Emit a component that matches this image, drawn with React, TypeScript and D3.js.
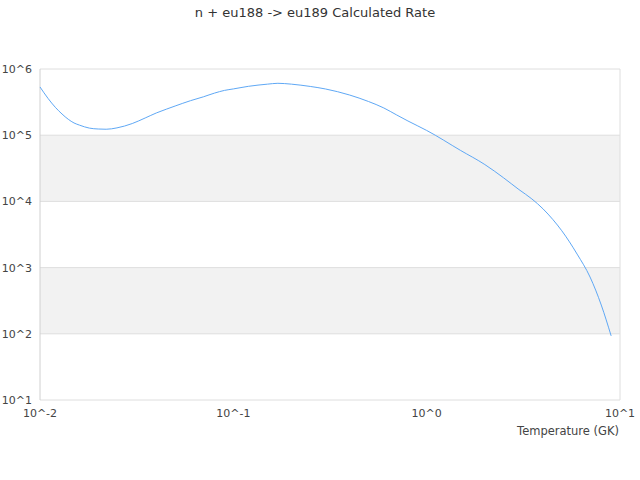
import React from 'react';
import * as d3 from 'd3';

const title = 'n + eu188 -> eu189 Calculated Rate';
const xAxisLabel = 'Temperature (GK)';

// temperature grid (GK) and calculated rate
const temperatures = [
  0.01, 0.011, 0.012, 0.013, 0.014, 0.015, 0.016, 0.018, 0.02, 0.022, 0.025,
  0.03, 0.035, 0.04, 0.045, 0.05, 0.06, 0.07, 0.08, 0.09, 0.1, 0.12, 0.15,
  0.17, 0.2, 0.25, 0.3, 0.4, 0.5, 0.6, 0.7, 0.8, 0.9, 1, 1.5, 2, 2.5, 3, 3.5,
  4, 4.5, 5, 6, 7, 8, 9,
];
const rates = [
  5.35e5, 3.6e5, 2.64e5, 2.09e5, 1.74e5, 1.53e5, 1.42e5, 1.28e5, 1.24e5,
  1.23e5, 1.29e5, 1.5e5, 1.82e5, 2.17e5, 2.47e5, 2.76e5, 3.32e5, 3.8e5,
  4.33e5, 4.75e5, 5.0e5, 5.48e5, 5.9e5, 6.08e5, 5.9e5, 5.45e5, 4.99e5,
  4.04e5, 3.23e5, 2.58e5, 2.02e5, 1.64e5, 1.38e5, 1.18e5, 5.87e4, 3.6e4,
  2.27e4, 1.51e4, 1.09e4, 7.7e3, 5.3e3, 3.6e3, 1.6e3, 720, 272, 93,
];

const xTicks = [0.01, 0.1, 1, 10];
const xTickLabels = ['10^-2', '10^-1', '10^0', '10^1'];
const yTicks = [1e1, 1e2, 1e3, 1e4, 1e5, 1e6];
const yTickLabels = ['10^1', '10^2', '10^3', '10^4', '10^5', '10^6'];

const W = 640;
const H = 480;
const margin = { top: 69, right: 20, bottom: 80, left: 40 };
const font = '"DejaVu Sans", Verdana, sans-serif';

export default function App() {
  const x = d3
    .scaleLog()
    .domain([0.01, 10])
    .range([margin.left, W - margin.right]);
  const y = d3
    .scaleLog()
    .domain([1e1, 1e6])
    .range([H - margin.bottom, margin.top]);

  const points = temperatures.map((t, i) => [t, rates[i]] as [number, number]);
  const line = d3
    .line<[number, number]>()
    .x(d => x(d[0]))
    .y(d => y(d[1]))
    .curve(d3.curveMonotoneX);

  // shaded bands between alternate decades
  const bands = yTicks.slice(0, -1).filter((_, i) => i % 2 === 1);

  return (
    <svg
      width={W}
      height={H}
      style={{ position: 'absolute', left: 0, top: 0, background: '#fff' }}
    >
      <text
        x={315}
        y={17}
        textAnchor="middle"
        fontFamily={font}
        fontSize={13}
        fill="#333"
      >
        {title}
      </text>

      {bands.map(b => (
        <rect
          key={b}
          x={x(0.01)}
          y={y(b * 10)}
          width={x(10) - x(0.01)}
          height={y(b) - y(b * 10)}
          fill="#f2f2f2"
        />
      ))}

      {yTicks.map(t => (
        <line
          key={t}
          x1={x(0.01)}
          x2={x(10)}
          y1={y(t)}
          y2={y(t)}
          stroke="#dedede"
          strokeWidth={1}
        />
      ))}
      <line x1={x(0.01)} x2={x(0.01)} y1={y(1e6)} y2={y(1e1)} stroke="#d0d0d0" />
      <line x1={x(10)} x2={x(10)} y1={y(1e6)} y2={y(1e1)} stroke="#dedede" />

      {yTicks.map((t, i) => (
        <text
          key={t}
          x={32}
          y={y(t) + 4}
          textAnchor="end"
          fontFamily={font}
          fontSize={11}
          fill="#444"
        >
          {yTickLabels[i]}
        </text>
      ))}

      {xTicks.map((t, i) => (
        <text
          key={t}
          x={x(t)}
          y={417}
          textAnchor="middle"
          fontFamily={font}
          fontSize={11}
          fill="#444"
        >
          {xTickLabels[i]}
        </text>
      ))}

      <text
        x={619}
        y={435}
        textAnchor="end"
        fontFamily={font}
        fontSize={11.5}
        fill="#444"
      >
        {xAxisLabel}
      </text>

      <path
        d={line(points) ?? ''}
        fill="none"
        stroke="#5fa8f5"
        strokeWidth={1}
      />
    </svg>
  );
}
